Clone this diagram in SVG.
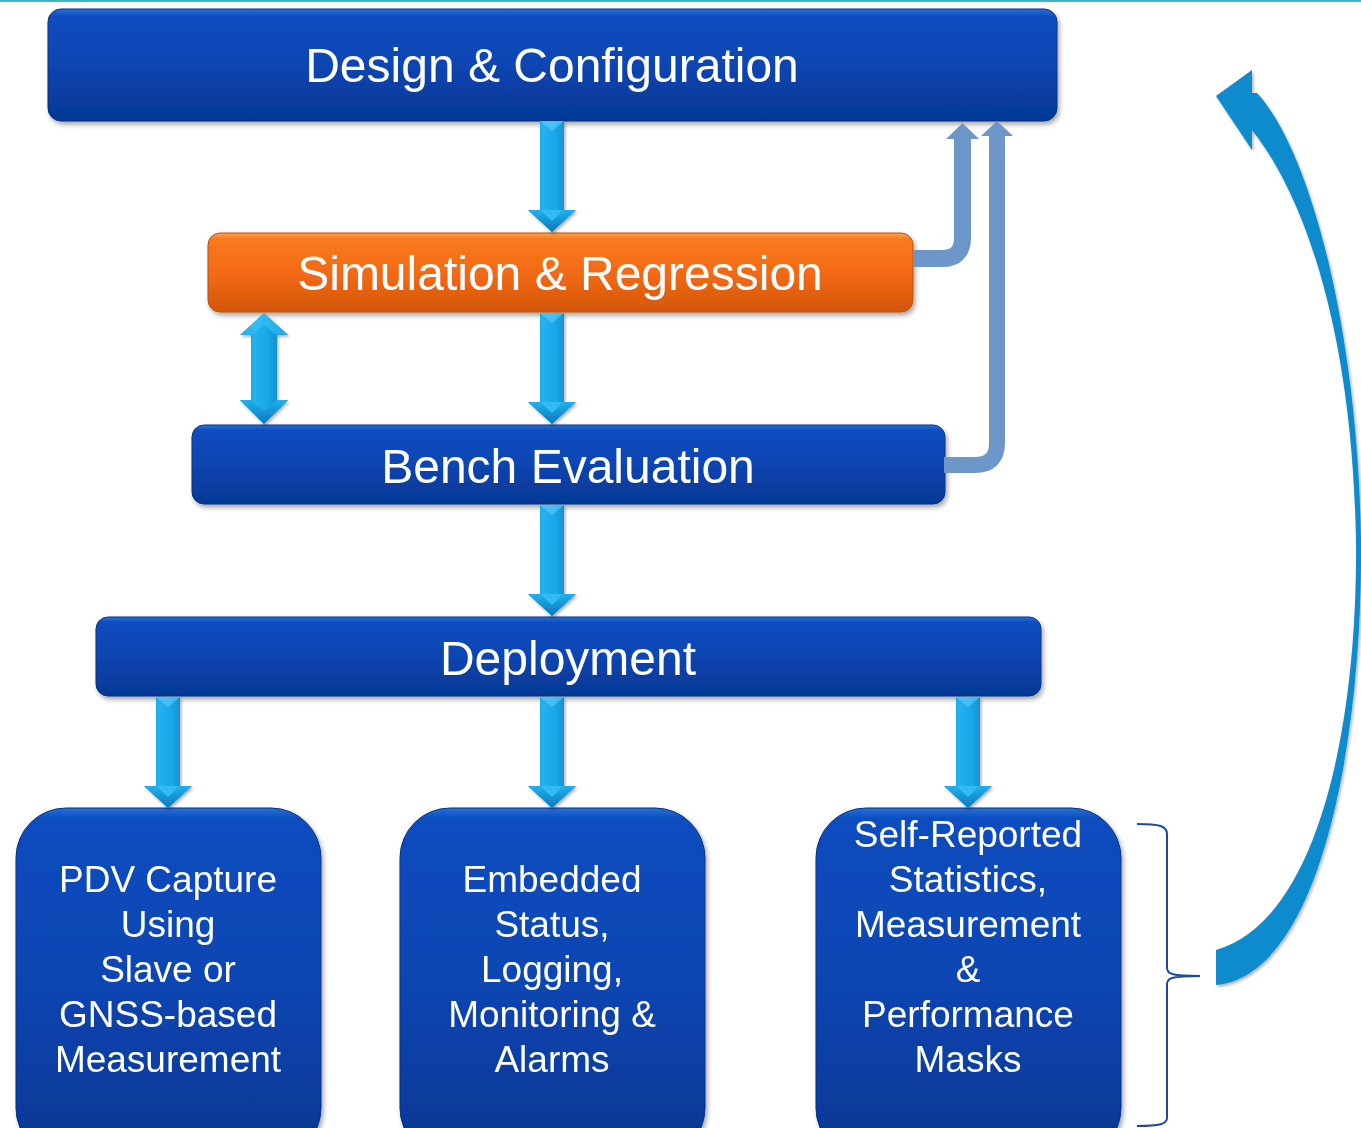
<svg xmlns="http://www.w3.org/2000/svg" width="1361" height="1128" viewBox="0 0 1361 1128">
  <defs>
    <linearGradient id="gBlue" x1="0" y1="0" x2="0" y2="1">
      <stop offset="0" stop-color="#2a6fd6"/>
      <stop offset="0.07" stop-color="#0b4dbf"/>
      <stop offset="0.5" stop-color="#0945b2"/>
      <stop offset="1" stop-color="#063792"/>
    </linearGradient>
    <linearGradient id="gBlueTall" x1="0" y1="0" x2="0" y2="1">
      <stop offset="0" stop-color="#2a6fd6"/>
      <stop offset="0.03" stop-color="#0b4dbf"/>
      <stop offset="0.5" stop-color="#0945b2"/>
      <stop offset="1" stop-color="#063792"/>
    </linearGradient>
    <linearGradient id="gOrange" x1="0" y1="0" x2="0" y2="1">
      <stop offset="0" stop-color="#ffa050"/>
      <stop offset="0.08" stop-color="#f97a1e"/>
      <stop offset="0.55" stop-color="#f06814"/>
      <stop offset="1" stop-color="#d2560a"/>
    </linearGradient>
    <linearGradient id="gArrow" x1="0" y1="0" x2="1" y2="0">
      <stop offset="0" stop-color="#0a7fc2"/>
      <stop offset="0.3" stop-color="#22b4f0"/>
      <stop offset="0.6" stop-color="#19a6e6"/>
      <stop offset="1" stop-color="#0a74b4"/>
    </linearGradient>
    <linearGradient id="gHead" x1="0" y1="0" x2="0" y2="1">
      <stop offset="0" stop-color="#20b0ee"/>
      <stop offset="1" stop-color="#0a78ba"/>
    </linearGradient>
    <filter id="shadow" x="-10%" y="-20%" width="120%" height="150%">
      <feDropShadow dx="2" dy="3" stdDeviation="2.5" flood-color="#000" flood-opacity="0.35"/>
    </filter>
    <filter id="shadowS" x="-30%" y="-10%" width="160%" height="130%">
      <feDropShadow dx="1.5" dy="2" stdDeviation="1.5" flood-color="#000" flood-opacity="0.3"/>
    </filter>
    <g id="downArrow">
      <polygon points="-12,0 12,0 12,89 24,89 0,111 -24,89 -12,89" fill="url(#gArrow)"/>
      <polygon points="-12,0 12,0 0,10" fill="#5fd0fa" opacity="0.6"/>
      <polygon points="-24,89 -12,89 0,100 12,89 24,89 0,111" fill="url(#gHead)"/>
      <polygon points="-12,89 0,100 12,89" fill="#3cc2f6" opacity="0.7"/>
    </g>
    <style>
      .lbl { font-family: "Liberation Sans", Arial, sans-serif; fill: #ffffff; text-anchor: middle; }
      .big { font-size: 48px; }
      .sm { font-size: 37px; }
      .fb { fill: none; stroke: #6d96c9; }
      .fbh { fill: #6d96c9; }
    </style>
  </defs>

  <rect x="0" y="0" width="1361" height="2" fill="#3fb5c6"/>

  <g id="node-design" filter="url(#shadow)">
    <rect x="48" y="9" width="1009" height="112" rx="13" fill="url(#gBlue)" stroke="#063488" stroke-width="1"/>
    <text class="lbl big" x="552" y="82">Design &amp; Configuration</text>
  </g>

  <g id="node-simulation" filter="url(#shadow)">
    <rect x="208" y="233" width="705" height="79" rx="12" fill="url(#gOrange)" stroke="#c04e08" stroke-width="1"/>
    <text class="lbl big" x="560" y="290">Simulation &amp; Regression</text>
  </g>

  <g id="node-bench" filter="url(#shadow)">
    <rect x="192" y="425" width="753" height="79" rx="12" fill="url(#gBlue)" stroke="#063488" stroke-width="1"/>
    <text class="lbl big" x="568" y="483">Bench Evaluation</text>
  </g>

  <g id="node-deployment" filter="url(#shadow)">
    <rect x="96" y="617" width="945" height="79" rx="12" fill="url(#gBlue)" stroke="#063488" stroke-width="1"/>
    <text class="lbl big" x="568" y="675">Deployment</text>
  </g>

  <g id="node-pdv" filter="url(#shadow)">
    <rect x="16" y="808" width="305" height="350" rx="50" fill="url(#gBlueTall)" stroke="#063488" stroke-width="1"/>
    <text class="lbl sm" x="168" y="892">PDV Capture</text>
    <text class="lbl sm" x="168" y="937">Using</text>
    <text class="lbl sm" x="168" y="982">Slave or</text>
    <text class="lbl sm" x="168" y="1027">GNSS-based</text>
    <text class="lbl sm" x="168" y="1072">Measurement</text>
  </g>

  <g id="node-embedded" filter="url(#shadow)">
    <rect x="400" y="808" width="305" height="350" rx="50" fill="url(#gBlueTall)" stroke="#063488" stroke-width="1"/>
    <text class="lbl sm" x="552" y="892">Embedded</text>
    <text class="lbl sm" x="552" y="937">Status,</text>
    <text class="lbl sm" x="552" y="982">Logging,</text>
    <text class="lbl sm" x="552" y="1027">Monitoring &amp;</text>
    <text class="lbl sm" x="552" y="1072">Alarms</text>
  </g>

  <g id="node-selfreported" filter="url(#shadow)">
    <rect x="816" y="808" width="305" height="350" rx="50" fill="url(#gBlueTall)" stroke="#063488" stroke-width="1"/>
    <text class="lbl sm" x="968" y="847">Self-Reported</text>
    <text class="lbl sm" x="968" y="892">Statistics,</text>
    <text class="lbl sm" x="968" y="937">Measurement</text>
    <text class="lbl sm" x="968" y="982">&amp;</text>
    <text class="lbl sm" x="968" y="1027">Performance</text>
    <text class="lbl sm" x="968" y="1072">Masks</text>
  </g>

  <g id="connectors">
    <g filter="url(#shadowS)">
      <use href="#downArrow" x="552" y="121"/>
      <use href="#downArrow" x="552" y="313"/>
      <use href="#downArrow" x="552" y="505"/>
      <use href="#downArrow" x="168" y="697"/>
      <use href="#downArrow" x="552" y="697"/>
      <use href="#downArrow" x="968" y="697"/>
      <g id="dbl-arrow">
        <polygon points="264,313 288,335 277,335 277,400 288,400 264,424 240,400 251,400 251,335 240,335" fill="url(#gArrow)"/>
        <polygon points="240,335 251,335 264,325 277,335 288,335 264,313" fill="#3cc2f6" opacity="0.6"/>
        <polygon points="240,400 251,400 264,411 277,400 288,400 264,424" fill="url(#gHead)"/>
      </g>
    </g>

    <path class="fb" d="M913,258.5 H942 Q962.5,258.5 962.5,238 V138" stroke-width="17"/>
    <polygon class="fbh" points="946,139 962.5,123 979,139"/>
    <path class="fb" d="M944,465 H975 Q997,465 997,443 V135" stroke-width="16"/>
    <polygon class="fbh" points="981,136 997,121 1013,136"/>

    <path filter="url(#shadowS)" fill="#0a8bcd" d="M1252,130 C1300,190 1352,320 1356,540 C1358,720 1320,920 1216,950 L1216,985 C1322,975 1363,735 1361,540 C1358,330 1310,150 1257,93 L1252,93 L1252,70 L1216,96 L1252,150 Z"/>

    <path fill="none" stroke="#1a4a9c" stroke-width="2" d="M1137,824 C1160,824 1167,826 1167,834 L1167,968 C1167,974 1172,976 1200,976 C1172,976 1167,978 1167,984 L1167,1118 C1167,1124 1160,1126 1137,1126"/>
  </g>
</svg>
